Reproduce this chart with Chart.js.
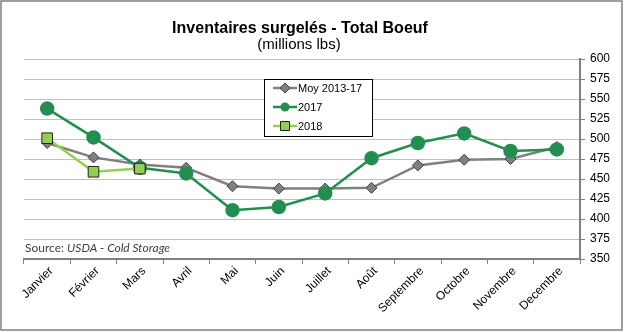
<!DOCTYPE html>
<html>
<head>
<meta charset="utf-8">
<script src="https://cdn.jsdelivr.net/npm/chart.js"></script>
<style>
  body { margin: 0; background: #fff; }
  canvas { display: block; }
</style>
</head>
<body>
<canvas id="myChart" width="624" height="332"></canvas>
<script>
var months = ["Janvier", "Février", "Mars", "Avril", "Mai", "Juin", "Juillet", "Août", "Septembre", "Octobre", "Novembre", "Decembre"];
var moy1317 = [495, 477, 468, 464, 441, 438, 438, 439, 467, 474, 475, 490];
var y2017 = [538, 502, 464, 457, 411, 415, 432, 476, 495, 507, 485, 487];
var y2018 = [501, 459, 463, null, null, null, null, null, null, null, null, null];
var yTicks = [350, 375, 400, 425, 450, 475, 500, 525, 550, 575, 600];

var gray = "#808080";
var green = "#238e4f";
var lightGreen = "#92d050";

// marker shapes used in the legend box
function marker(ctx, kind, x, y) {
  ctx.beginPath();
  if (kind == "diamond") {
    ctx.moveTo(x, y - 5); ctx.lineTo(x + 5, y); ctx.lineTo(x, y + 5); ctx.lineTo(x - 5, y);
    ctx.closePath();
    ctx.fillStyle = gray; ctx.fill();
    ctx.strokeStyle = "#404040"; ctx.lineWidth = 1; ctx.stroke();
  } else if (kind == "circle") {
    ctx.arc(x, y, 4.5, 0, Math.PI * 2);
    ctx.fillStyle = green; ctx.fill();
  } else {
    ctx.rect(x - 4.5, y - 4.5, 9, 9);
    ctx.fillStyle = lightGreen; ctx.fill();
    ctx.strokeStyle = "#222"; ctx.lineWidth = 1; ctx.stroke();
  }
}

var decorations = {
  id: "decorations",
  afterDraw: function(chart) {
    var ctx = chart.ctx;
    ctx.save();

    // outer frame
    ctx.strokeStyle = gray;
    ctx.lineWidth = 1.5;
    ctx.strokeRect(1, 1, 621, 329);

    // titles
    ctx.fillStyle = "#000";
    ctx.textAlign = "center";
    ctx.textBaseline = "alphabetic";
    ctx.font = "bold 16px 'Liberation Sans', Arial, sans-serif";
    ctx.fillText("Inventaires surgelés - Total Boeuf", 300, 33);
    ctx.font = "15px 'Liberation Sans', Arial, sans-serif";
    ctx.fillText("(millions lbs)", 299, 49);

    // source note
    ctx.textAlign = "left";
    ctx.fillStyle = "#404040";
    ctx.font = "12px Lato, sans-serif";
    ctx.fillText("Source: ", 25, 252);
    var w = ctx.measureText("Source: ").width;
    ctx.font = "italic 12px Lato, sans-serif";
    ctx.fillText("USDA - Cold Storage", 25 + w, 252);

    // legend
    ctx.fillStyle = "#fff";
    ctx.fillRect(264.5, 79.5, 108, 57);
    ctx.strokeStyle = "#000";
    ctx.lineWidth = 1;
    ctx.strokeRect(264.5, 79.5, 108, 57);

    var items = [
      ["Moy 2013-17", gray, "diamond"],
      ["2017", green, "circle"],
      ["2018", lightGreen, "square"]
    ];
    for (var i = 0; i < items.length; i++) {
      var y = 88 + i * 19;
      ctx.strokeStyle = items[i][1];
      ctx.lineWidth = 2.5;
      ctx.beginPath();
      ctx.moveTo(273, y);
      ctx.lineTo(297, y);
      ctx.stroke();
      marker(ctx, items[i][2], 285, y);
      ctx.fillStyle = "#000";
      ctx.font = "11px 'Liberation Sans', Arial, sans-serif";
      ctx.textBaseline = "middle";
      ctx.fillText(items[i][0], 298, y + 0.5);
    }
    ctx.restore();
  }
};

var cx = document.getElementById("myChart");
var myChart = new Chart(cx, {
  type: "line",
  data: {
    labels: months,
    datasets: [{
      label: "Moy 2013-17",
      data: moy1317,
      order: 3,
      borderColor: gray,
      borderWidth: 2.5,
      pointStyle: "rectRot",
      pointRadius: 5.5,
      pointBackgroundColor: gray,
      pointBorderColor: "#404040",
      pointBorderWidth: 1,
      lineTension: 0
    }, {
      label: "2017",
      data: y2017,
      order: 2,
      borderColor: green,
      borderWidth: 2.5,
      pointStyle: "circle",
      pointRadius: 6,
      pointBackgroundColor: green,
      pointBorderColor: green,
      lineTension: 0
    }, {
      label: "2018",
      data: y2018,
      order: 1,
      borderColor: lightGreen,
      borderWidth: 2.5,
      pointStyle: "rect",
      pointRadius: 7.5,
      pointBackgroundColor: lightGreen,
      pointBorderColor: "#222",
      pointBorderWidth: 1,
      lineTension: 0
    }]
  },
  options: {
    responsive: false,
    animation: false,
    layout: { padding: { top: 59, left: 24, right: 0, bottom: 0 } },
    plugins: {
      legend: { display: false },
      title: { display: false },
      tooltip: { enabled: false }
    },
    scales: {
      x: {
        offset: true,
        grid: {
          offset: true,
          drawOnChartArea: false,
          drawTicks: true,
          tickLength: 5,
          tickColor: gray,
          tickWidth: 1
        },
        border: { display: true, color: gray, width: 2 },
        ticks: {
          maxRotation: 45,
          minRotation: 45,
          autoSkip: false,
          color: "#000",
          padding: 0,
          labelOffset: 4,
          font: { family: "'Liberation Sans', Arial, sans-serif", size: 12 }
        },
        afterFit: function(scale) { scale.height = 73; }
      },
      y: {
        position: "right",
        min: 350,
        max: 600,
        afterBuildTicks: function(scale) {
          scale.ticks = yTicks.map(function(v) { return { value: v }; });
        },
        grid: {
          color: "#c0c0c0",
          lineWidth: 1,
          drawTicks: true,
          tickLength: 5,
          tickColor: gray
        },
        border: { display: true, color: gray, width: 2 },
        ticks: {
          color: "#000",
          padding: 5,
          font: { family: "'Liberation Sans', Arial, sans-serif", size: 12 }
        },
        afterFit: function(scale) { scale.width = 44; }
      }
    }
  },
  plugins: [decorations]
});
</script>
</body>
</html>
